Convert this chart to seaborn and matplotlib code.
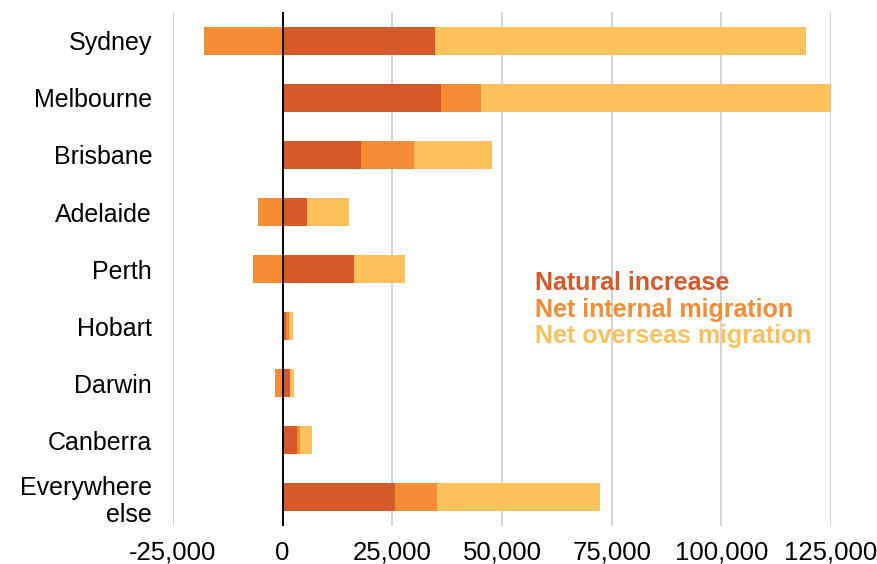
import matplotlib
matplotlib.use("Agg")
import matplotlib.pyplot as plt
import matplotlib.patches as mpatches
import numpy as np
import pandas as pd
import seaborn as sns

cities = ["Sydney", "Melbourne", "Brisbane", "Adelaide", "Perth", "Hobart",
          "Darwin", "Canberra", "Everywhere\nelse"]
natural_increase = [34800, 36100, 17800, 5500, 16200, 800, 1600, 3300, 25600]
net_internal = [-17900, 9100, 12100, -5700, -6800, 700, -1800, 600, 9600]
net_overseas = [84500, 79800, 17800, 9600, 11600, 900, 1000, 2900, 37100]

series_names = ["Natural increase", "Net internal migration", "Net overseas migration"]
colors = ["#D5592A", "#F68C35", "#FFC15C"]
x_ticks = [-25000, 0, 25000, 50000, 75000, 100000, 125000]

sns.set_theme(style="white")
plt.rcParams["font.family"] = ["Liberation Sans", "DejaVu Sans"]

nat = np.array(natural_increase, dtype=float)
internal = np.array(net_internal, dtype=float)
over = np.array(net_overseas, dtype=float)
pos_int = np.clip(internal, 0, None)
neg_int = np.clip(internal, None, 0)

df = pd.DataFrame({
    "city": cities,
    "top": nat + pos_int + over,
    "mid": nat + pos_int,
    "nat": nat,
    "neg": neg_int,
})

fig = plt.figure(figsize=(8.78, 5.64), dpi=100)
ax = fig.add_axes([0.197, 0.068, 0.7495, 0.910])

for ax_x in x_ticks:
    ax.axvline(ax_x, color="#CDCDD2", lw=1.2, zorder=0)

kw = dict(y="city", orient="h", width=0.5, linewidth=0, saturation=1, ax=ax, zorder=2)
sns.barplot(data=df, x="top", color=colors[2], **kw)
sns.barplot(data=df, x="mid", color=colors[1], **kw)
sns.barplot(data=df, x="nat", color=colors[0], **kw)
sns.barplot(data=df, x="neg", color=colors[1], **kw)

ax.axvline(0, color="black", lw=1.4, zorder=3)

ax.set_xlim(-25000, 125000)
ax.set_ylim(len(cities) - 0.5, -0.5)
ax.set_xticks(x_ticks)
ax.set_xticklabels([f"{v:,}" for v in x_ticks])
ax.set_xlabel("")
ax.set_ylabel("")
ax.tick_params(axis="x", length=0, pad=11, labelsize=18.5, colors="black")
ax.tick_params(axis="y", length=0, pad=15, labelsize=18, colors="black")
for lab in ax.get_yticklabels():
    lab.set_horizontalalignment("right")
for s in ax.spines.values():
    s.set_visible(False)

handles = [mpatches.Patch(color="none") for _ in series_names]
leg = ax.legend(handles, series_names, loc="upper left", bbox_to_anchor=(0.55, 0.496),
                frameon=False, handlelength=0, handletextpad=0, borderpad=0,
                borderaxespad=0, labelspacing=0.1,
                prop={"size": 18, "weight": "bold"})
for t, c in zip(leg.get_texts(), colors):
    t.set_color(c)

fig.savefig("out.png", dpi=100)
